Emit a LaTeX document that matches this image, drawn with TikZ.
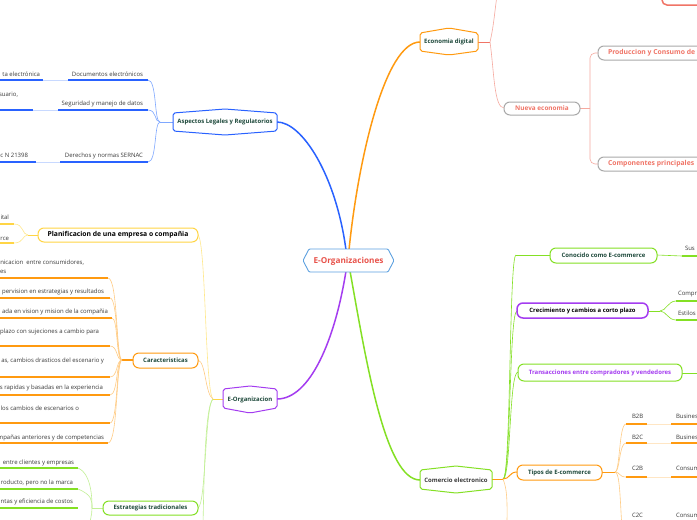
\documentclass[tikz,border=0pt]{standalone}
\usepackage{fontspec}
\setmainfont{Open Sans}
\definecolor{blueM}{HTML}{2962FF}
\definecolor{blueL}{HTML}{7FA8FF}
\definecolor{blueF}{HTML}{C8D9FF}
\definecolor{orangeM}{HTML}{FF9A10}
\definecolor{orangeL}{HTML}{FFCC85}
\definecolor{orangeF}{HTML}{FFE6C4}
\definecolor{purpleM}{HTML}{A43CF0}
\definecolor{greenM}{HTML}{84E024}
\definecolor{greenL}{HTML}{C2F096}
\definecolor{yellowM}{HTML}{FFD545}
\definecolor{yellowL}{HTML}{FFE88C}
\definecolor{salmonM}{HTML}{F07466}
\definecolor{salmonL}{HTML}{F6A99F}
\definecolor{grayB}{HTML}{A9A9A9}
\definecolor{dkgreen}{HTML}{1F4A3C}
\definecolor{txtgray}{HTML}{3A3A3A}
\definecolor{cblue}{HTML}{5DA1E0}
\definecolor{ctrred}{HTML}{E8524A}
\begin{document}
\begin{tikzpicture}[x=1pt,y=-1pt,
  every node/.style={inner sep=0pt,outer sep=0pt},
  itemtext/.style={font=\fontsize{6}{7}\selectfont,text=txtgray},
  lbl/.style={font=\fontsize{6}{7}\selectfont\bfseries,text=dkgreen},
  boxline/.style={line width=1pt,rounded corners=6pt,fill=white},
  hexline/.style={line width=1pt,rounded corners=2pt,fill=white},
  under/.style={line width=1.5pt},
  conn/.style={line width=0.6pt},
  mainline/.style={line width=1.5pt}]
\clip (0,0) rectangle (697,520);
\fill[white] (0,0) rectangle (697,520);

% ---------- coordinates ----------
\coordinate (ctrN) at (346,250);
\coordinate (ctrN2) at (349,250);
\coordinate (ctrS) at (346,271);
\coordinate (ctrS2) at (350,271);
\coordinate (aspR) at (277,122);
\coordinate (aspL) at (173,122);
\coordinate (aspJ) at (160,122);
\coordinate (ecoL) at (420,42);
\coordinate (ecoR) at (478,42);
\coordinate (ecoJ) at (490,42);
\coordinate (eorgR) at (277,399);
\coordinate (eorgL) at (223,399);
\coordinate (eorgJ) at (213,399);
\coordinate (comL) at (420,480);
\coordinate (comR) at (492,479);
\coordinate (comJ) at (503,479);

% ---------- main branches ----------
\draw[mainline,blueM] (ctrN) .. controls (336,175) and (302,122) .. (aspR);
\draw[mainline,orangeM] (ctrN2) .. controls (358,160) and (385,42) .. (ecoL);
\draw[mainline,purpleM] (ctrS) .. controls (335,340) and (310,399) .. (eorgR);
\draw[mainline,greenM] (ctrS2) .. controls (366,360) and (385,480) .. (comL);

% ---------- Aspectos Legales ----------
\draw[conn,blueL] (aspL) -- (aspJ);
\coordinate (u1) at (148,80);
\coordinate (u2) at (148,110);
\coordinate (u3) at (148,162);
\draw[conn,blueL] (aspJ) .. controls (154,122) and (157,80) .. (u1);
\draw[conn,blueL] (aspJ) .. controls (154,122) and (157,110) .. (u2);
\draw[conn,blueL] (aspJ) .. controls (154,122) and (157,162) .. (u3);
\draw[under,blueM] (68,80) -- (u1);
\draw[line width=1pt,blueF] (43,80) -- (68,80);
\draw[under,blueM] (-2,80) -- (43,80);
\draw[under,blueM] (58,110) -- (u2);
\draw[line width=1pt,blueF] (33,110) -- (58,110);
\draw[under,blueM] (-2,110) -- (33,110);
\draw[under,blueM] (60,162) -- (u3);
\draw[line width=1pt,blueF] (36,162) -- (60,162);
\draw[under,blueM] (-2,162) -- (36,162);
\node[itemtext,anchor=base east] (t1) at (143,76) {Documentos electrónicos};
\node[itemtext,anchor=base east] (t1b) at (40,76) {ta electrónica};
\node[itemtext,anchor=base east] (t2) at (143,105) {Seguridad y manejo de datos};
\node[itemtext,anchor=base east] (t2b) at (18,96) {suario,};
\node[itemtext,anchor=base east] (t3) at (143,157) {Derechos y normas SERNAC};
\node[itemtext,anchor=base east] (t3b) at (28,157) {c N 21398};
\draw[hexline,draw=blueM] (173,113) -- (225,109) -- (277,113) -- (277,131) -- (225,135) -- (173,131) -- cycle;
\node[lbl] (asp) at (225,122) {Aspectos Legales y Regulatorios};

% ---------- Economia digital ----------
\draw[conn,salmonM] (ecoR) -- (ecoJ);
\draw[conn,salmonL] (ecoJ) .. controls (494,25) and (495,8) .. (497,-4);
\coordinate (nueL) at (504,108);
\draw[conn,salmonL] (ecoJ) .. controls (494,70) and (494,108) .. (nueL);
\draw[hexline,draw=orangeM] (420,33) -- (449,28) -- (478,33) -- (478,51) -- (449,55) -- (420,51) -- cycle;
\node[lbl] (eco) at (449,42) {Economia digital};
\draw[line width=1.5pt,salmonM,rounded corners=5pt] (662,-6) |- (705,5);

\coordinate (nueR) at (580,108);
\coordinate (nueJ) at (590,108);
\coordinate (prodL) at (598,53);
\coordinate (compL) at (598,164);
\draw[line width=1pt,salmonL] (nueR) -- (nueJ);
\draw[conn,salmonL,rounded corners=5pt] (nueJ) |- (prodL);
\draw[conn,salmonL,rounded corners=5pt] (nueJ) |- (compL);
\draw[boxline,draw=grayB] (504,102) rectangle (580,115);
\node[font=\fontsize{6.4}{7}\selectfont\bfseries,text=salmonM] (nue) at (542,108.5) {Nueva economia};
\draw[boxline,draw=grayB] (598,46) rectangle (712,60);
\node[font=\fontsize{6.8}{8}\selectfont\bfseries,text=salmonM,anchor=west] (prod) at (608,53) {Produccion y Consumo de};
\draw[boxline,draw=grayB] (598,157) rectangle (712,171);
\node[font=\fontsize{6.8}{8}\selectfont\bfseries,text=salmonM,anchor=west] (comp) at (608,164) {Componentes principales};

% ---------- E-Organizacion ----------
\draw[conn,yellowM] (eorgL) -- (eorgJ);
\coordinate (planR) at (198,235);
\coordinate (carR) at (198,360);
\coordinate (estR) at (198,508);
\draw[conn,yellowL] (eorgJ) .. controls (205,392) and (206,242) .. (planR);
\draw[conn,orangeL] (eorgJ) .. controls (205,394) and (206,362) .. (carR);
\draw[conn,greenL] (eorgJ) .. controls (205,404) and (206,505) .. (estR);
\draw[conn,greenL] (eorgJ) .. controls (205,406) and (204,480) .. (203,525);
\draw[hexline,draw=purpleM] (223,389) -- (250,386) -- (277,389) -- (277,408) -- (250,413) -- (223,408) -- cycle;
\node[lbl] (eorg) at (250,400) {E-Organizacion};

% Planificacion
\coordinate (planL) at (38,235);
\coordinate (planJ) at (28,235);
\draw[conn,yellowM] (planL) -- (planJ);
\draw[conn,yellowL] (planJ) .. controls (22,235) and (24,224) .. (14,224);
\draw[conn,yellowL] (planJ) .. controls (22,235) and (24,243) .. (14,243);
\draw[under,yellowM] (-2,224) -- (14,224);
\draw[under,yellowM] (-2,243) -- (14,243);
\node[itemtext,anchor=base east] (p1) at (9,219) {ital};
\node[itemtext,anchor=base east] (p2) at (9,240) {rce};
\draw[boxline,draw=yellowM] (38,228) rectangle (198,242);
\node[font=\fontsize{6.8}{8}\selectfont\bfseries] (plan) at (118,235) {Planificacion de una empresa o compañia};

% Caracteristicas
\coordinate (carL) at (133,360);
\coordinate (carJ) at (122,360);
\draw[under,orangeM] (carL) -- (carJ);
\foreach \yy/\xe in {278/108,298/110,318/112,346/110,377/110,395/110,423/110,443/108}{
  \draw[conn,orangeL] (carJ) .. controls (116,360) and (118,\yy) .. (\xe,\yy);
  \draw[under,orangeM] (-2,\yy) -- (\xe,\yy);
}
\node[itemtext,anchor=base east] (c1) at (84,264) {nicacion\ \ entre consumidores,};
\node[itemtext,anchor=base west] (c1b) at (0,273) {es};
\node[itemtext,anchor=base east] (c2) at (104,293) {pervision en estrategias y resultados};
\node[itemtext,anchor=base east] (c3) at (108,313) {ada en vision y mision de la compañia};
\node[itemtext,anchor=base east] (c4) at (99,333) {plazo con sujeciones a cambio para};
\node[itemtext,anchor=base east] (c5) at (104,362) {as, cambios drasticos del escenario y};
\node[itemtext,anchor=base east] (c6) at (103,389) {s rapidas y basadas en la experiencia};
\node[itemtext,anchor=base east] (c7) at (79,410) {los cambios de escenarios o};
\node[itemtext,anchor=base east] (c8) at (104,439) {mpañas anteriores y de competencias};
\draw[boxline,draw=orangeM] (133,353) rectangle (198,368);
\node[lbl] (car) at (165.5,360.5) {Caracteristicas};

% Estrategias tradicionales
\coordinate (estL) at (103,508);
\coordinate (estJ) at (92,508);
\draw[conn,greenL] (estL) -- (estJ);
\foreach \yy in {468,489}{
  \draw[conn,greenL] (estJ) .. controls (92,500) and (92,\yy+6) .. (78,\yy);
}
\draw[conn,greenL] (estJ) .. controls (92,515) and (90,522) .. (88,528);
\foreach \yy in {468,489,508}{
  \draw[under,greenM] (-2,\yy) -- (78,\yy);
}
\node[itemtext,anchor=base east] (e1) at (74,464) {entre clientes y empresas};
\node[itemtext,anchor=base east] (e2) at (73,484) {roducto, pero no la marca};
\node[itemtext,anchor=base east] (e3) at (73,503) {ntas y eficiencia de costos};
\draw[boxline,draw=greenM] (103,501) rectangle (198,515);
\node[lbl] (est) at (150.5,508) {Estrategias tradicionales};

% ---------- Comercio electronico ----------
\draw[line width=1pt,orangeM] (comR) -- (comJ);
\coordinate (conL) at (516,255);
\coordinate (creL) at (517,311);
\coordinate (traL) at (518,372);
\coordinate (tipL) at (517,472);
\draw[conn,greenM] (comJ) .. controls (511,479) and (509,255) .. (conL);
\draw[conn,greenM] (conL) -- (550,255);
\draw[conn,greenM] (comJ) .. controls (511,479) and (509,311) .. (creL);
\draw[conn,greenM] (comJ) .. controls (511,479) and (509,372) .. (traL);
\draw[line width=1pt,orangeM] (comJ) .. controls (510,479) and (509,472) .. (tipL);
\draw[conn,orangeL] (comJ) .. controls (508,490) and (507,510) .. (507,525);
\draw[hexline,draw=greenM] (420,470) -- (456,466) -- (492,470) -- (492,489) -- (456,493) -- (420,489) -- cycle;
\node[font=\fontsize{6}{7}\selectfont\bfseries,text=txtgray] (com) at (456,480) {Comercio electronico};

% Conocido
\draw[conn,greenM] (657,255) -- (682,256);
\draw[under,greenM] (682,256) -- (705,256);
\node[itemtext,anchor=base west] (sus) at (685,250) {Sus};
\draw[boxline,draw=greenM] (550,248) rectangle (657,263);
\node[lbl] (con) at (603.5,255.5) {Conocido como E-commerce};

% Crecimiento
\coordinate (creR) at (648,311);
\coordinate (creJ) at (660,311);
\draw[conn,greenM] (creR) -- (creJ);
\draw[conn,greenM] (creJ) .. controls (666,311) and (668,301) .. (676,301);
\draw[conn,greenM] (creJ) .. controls (666,311) and (668,320) .. (676,320);
\draw[under,greenM] (676,301) -- (705,301);
\draw[under,greenM] (676,320) -- (705,320);
\node[itemtext,anchor=base west] (cr1) at (678,295) {Compr};
\node[itemtext,anchor=base west] (cr2) at (678,315) {Estilos};
\draw[line width=1.5pt,rounded corners=6pt,draw=purpleM,fill=white] (517,303) rectangle (648,318);
\node[font=\fontsize{5.9}{7}\selectfont\bfseries] (cre) at (582.5,310.5) {Crecimiento y cambios a corto plazo};

% Transacciones
\draw[conn,greenM] (682,373) -- (705,373);
\draw[boxline,draw=greenM] (518,364) rectangle (682,381);
\node[font=\fontsize{6}{7}\selectfont\bfseries,text=purpleM] (tra) at (600,372.5) {Transacciones entre compradores y vendedores};

% Tipos de E-commerce
\coordinate (tipR) at (602,472);
\coordinate (tipJ) at (615,472);
\draw[line width=1pt,orangeM] (tipR) -- (tipJ);
\foreach \yy in {424,443,477}{
  \draw[conn,orangeL] (tipJ) .. controls (620,472) and (619,\yy) .. (626,\yy);
  \draw[under,orangeM] (626,\yy) -- (647,\yy);
  \draw[line width=1pt,orangeF] (647,\yy) -- (671,\yy);
  \draw[under,orangeM] (671,\yy) -- (705,\yy);
}
\draw[conn,orangeL] (tipJ) .. controls (620,472) and (620,500) .. (622,528);
\node[itemtext,anchor=base west] (b2b) at (632,418) {B2B};
\node[itemtext,anchor=base west] (b2c) at (632,439) {B2C};
\node[itemtext,anchor=base west] (c2b) at (632,470) {C2B};
\node[itemtext,anchor=base west] (c2c) at (632,517) {C2C};
\node[itemtext,anchor=base west] (bu1) at (676,418) {Busines};
\node[itemtext,anchor=base west] (bu2) at (676,439) {Busines};
\node[itemtext,anchor=base west] (cs1) at (676,470) {Consum};
\node[itemtext,anchor=base west] (cs2) at (676,517) {Consum};
\draw[boxline,draw=orangeM] (517,465) rectangle (602,480);
\node[lbl] (tip) at (559.5,472.5) {Tipos de E-commerce};

% ---------- center ----------
\draw[line width=0.9pt,rounded corners=1pt,draw=cblue,fill=white] (303,260.5) -- (309,249) -- (388,249) -- (394,260.5) -- (388,272) -- (309,272) -- cycle;
\node[font=\fontsize{8.2}{9}\selectfont\bfseries,text=ctrred] (ctr) at (348.5,261) {E-Organizaciones};
\end{tikzpicture}
\end{document}
